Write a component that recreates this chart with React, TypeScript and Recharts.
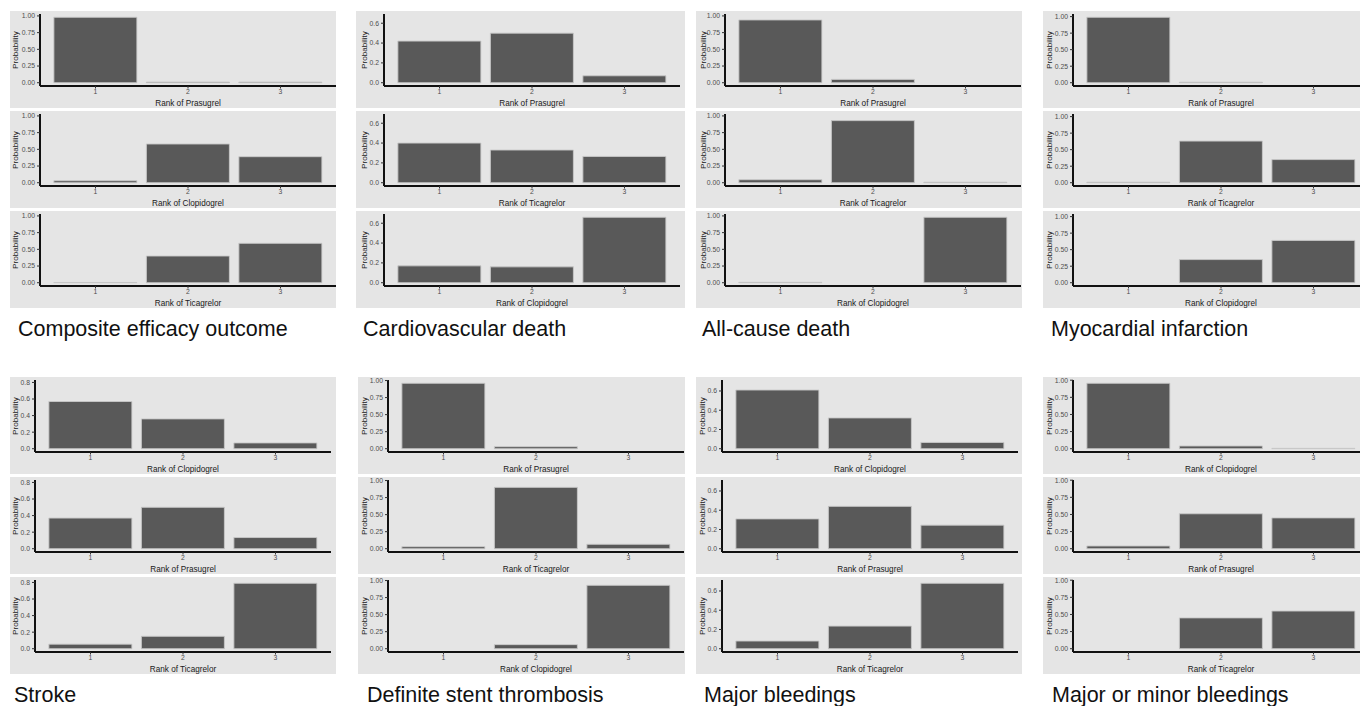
import { BarChart, Bar, XAxis, YAxis } from 'recharts';

// ─── Data ─────────────────────────────────────────────────────────────────────

const RANKS = ['1', '2', '3'];

const TITLES = [
  'Composite efficacy outcome',
  'Cardiovascular death',
  'All-cause death',
  'Myocardial infarction',
  'Stroke',
  'Definite stent thrombosis',
  'Major bleedings',
  'Major or minor bleedings',
];

const TICKS_UNIT = [0, 0.25, 0.5, 0.75, 1];
const TICKS_06 = [0, 0.2, 0.4, 0.6];
const TICKS_08 = [0, 0.2, 0.4, 0.6, 0.8];

const compositeDrugs = ['Prasugrel', 'Clopidogrel', 'Ticagrelor'];
const compositeProb = [
  [0.98, 0.01, 0.01],
  [0.03, 0.58, 0.39],
  [0.004, 0.4, 0.59],
];

const cvDeathDrugs = ['Prasugrel', 'Ticagrelor', 'Clopidogrel'];
const cvDeathProb = [
  [0.42, 0.5, 0.07],
  [0.4, 0.33, 0.265],
  [0.17, 0.16, 0.66],
];

const allDeathDrugs = ['Prasugrel', 'Ticagrelor', 'Clopidogrel'];
const allDeathProb = [
  [0.94, 0.05, 0],
  [0.045, 0.93, 0.008],
  [0.006, 0, 0.98],
];

const miDrugs = ['Prasugrel', 'Ticagrelor', 'Clopidogrel'];
const miProb = [
  [0.99, 0.008, 0],
  [0.008, 0.63, 0.35],
  [0, 0.35, 0.64],
];

const strokeDrugs = ['Clopidogrel', 'Prasugrel', 'Ticagrelor'];
const strokeProb = [
  [0.57, 0.36, 0.07],
  [0.37, 0.5, 0.135],
  [0.055, 0.15, 0.79],
];

const stentDrugs = ['Prasugrel', 'Ticagrelor', 'Clopidogrel'];
const stentProb = [
  [0.96, 0.03, 0],
  [0.03, 0.9, 0.065],
  [0, 0.06, 0.93],
];

const majorDrugs = ['Clopidogrel', 'Prasugrel', 'Ticagrelor'];
const majorProb = [
  [0.61, 0.32, 0.065],
  [0.31, 0.44, 0.245],
  [0.08, 0.235, 0.68],
];

const minorDrugs = ['Clopidogrel', 'Prasugrel', 'Ticagrelor'];
const minorProb = [
  [0.955, 0.04, 0.005],
  [0.04, 0.51, 0.45],
  [0, 0.45, 0.55],
];

// ─── Layout ───────────────────────────────────────────────────────────────────

const FONT = '"Liberation Sans", Arial, Helvetica, sans-serif';
const PANEL_BG = '#e5e5e5';
const BAR_FILL = '#595959';
const SUB_OFFSETS = [0, 99.5, 199.5];
const SUB_H = 97;
const PLOT_W = 296;

const PANELS = [
  { title: TITLES[0], drugs: compositeDrugs, prob: compositeProb, ticks: TICKS_UNIT, left: 10, right: 336, axisX: 40, top: 11, labelX: 5.5, titleX: 18 },
  { title: TITLES[1], drugs: cvDeathDrugs, prob: cvDeathProb, ticks: TICKS_06, left: 356, right: 685, axisX: 384, top: 11, labelX: 8, titleX: 363 },
  { title: TITLES[2], drugs: allDeathDrugs, prob: allDeathProb, ticks: TICKS_UNIT, left: 696, right: 1022, axisX: 725, top: 11, labelX: 7, titleX: 702 },
  { title: TITLES[3], drugs: miDrugs, prob: miProb, ticks: TICKS_UNIT, left: 1043, right: 1360, axisX: 1073, top: 11, labelX: 6.5, titleX: 1051 },
  { title: TITLES[4], drugs: strokeDrugs, prob: strokeProb, ticks: TICKS_08, left: 10, right: 336, axisX: 35, top: 377, labelX: 5.5, titleX: 14 },
  { title: TITLES[5], drugs: stentDrugs, prob: stentProb, ticks: TICKS_UNIT, left: 358, right: 685, axisX: 388, top: 377, labelX: 6, titleX: 367 },
  { title: TITLES[6], drugs: majorDrugs, prob: majorProb, ticks: TICKS_06, left: 696, right: 1022, axisX: 722, top: 377, labelX: 6, titleX: 704 },
  { title: TITLES[7], drugs: minorDrugs, prob: minorProb, ticks: TICKS_UNIT, left: 1043, right: 1360, axisX: 1073, top: 377, labelX: 6.5, titleX: 1052 },
];

// ─── One small rank plot ──────────────────────────────────────────────────────

interface SubPlotProps {
  drug: string;
  values: number[];
  ticks: number[];
  domain: [number, number];
  axisW: number;
  labelX: number;
}

function SubPlot({ drug, values, ticks, domain, axisW, labelX }: SubPlotProps) {
  const data = RANKS.map((rank, i) => ({ rank, p: values[i] }));
  const digits = ticks[1] === 0.25 ? 2 : 1;
  const pad = (PLOT_W / 3.2) * 0.1;

  return (
    <BarChart
      width={axisW + PLOT_W}
      height={SUB_H}
      data={data}
      margin={{ top: 3, right: 0, bottom: 0, left: 0 }}
      barCategoryGap="5%"
    >
      <XAxis
        dataKey="rank"
        type="category"
        height={22}
        padding={{ left: pad, right: pad }}
        axisLine={{ stroke: '#111', strokeWidth: 2 }}
        tickLine={{ stroke: '#333' }}
        tickSize={2.5}
        tickMargin={1}
        tick={{ fontSize: 6.8, fill: '#4d4d4d', fontFamily: FONT }}
        label={{
          value: `Rank of ${drug}`,
          position: 'insideBottom',
          offset: 2,
          style: { fontSize: 8.2, fill: '#1a1a1a', fontFamily: FONT },
        }}
      />
      <YAxis
        type="number"
        width={axisW}
        domain={domain}
        ticks={ticks}
        interval={0}
        tickFormatter={(v: number) => v.toFixed(digits)}
        axisLine={{ stroke: '#111', strokeWidth: 2 }}
        tickLine={{ stroke: '#333' }}
        tickSize={3}
        tickMargin={2}
        tick={{ fontSize: 6.8, fill: '#4d4d4d', fontFamily: FONT }}
        label={{
          value: 'Probability',
          angle: -90,
          position: 'insideLeft',
          offset: labelX,
          style: { fontSize: 8.1, fill: '#1a1a1a', fontFamily: FONT, textAnchor: 'middle' },
        }}
      />
      <Bar dataKey="p" fill={BAR_FILL} stroke="#c8c8c8" strokeWidth={0.9} isAnimationActive={false} />
    </BarChart>
  );
}

// ─── Main ─────────────────────────────────────────────────────────────────────

export default function App() {
  return (
    <div
      style={{
        position: 'absolute',
        left: 0,
        top: 0,
        width: 1360,
        height: 706,
        background: '#fff',
        fontFamily: FONT,
        overflow: 'hidden',
      }}
    >
      {PANELS.map((panel) => {
        const maxVal = Math.max(...panel.prob.flat());
        const domain: [number, number] = [-maxVal * 0.05, maxVal * 1.05];
        const axisW = panel.axisX - panel.left;
        return (
          <div key={panel.title}>
            {panel.drugs.map((drug, i) => (
              <div
                key={drug}
                style={{
                  position: 'absolute',
                  left: panel.left,
                  top: panel.top + SUB_OFFSETS[i],
                  width: panel.right - panel.left,
                  height: SUB_H,
                  background: PANEL_BG,
                  overflow: 'hidden',
                }}
              >
                <SubPlot
                  drug={drug}
                  values={panel.prob[i]}
                  ticks={panel.ticks}
                  domain={domain}
                  axisW={axisW}
                  labelX={panel.labelX}
                />
              </div>
            ))}
            <div
              style={{
                position: 'absolute',
                left: panel.titleX,
                top: panel.top + 305.5,
                fontSize: 21.5,
                lineHeight: '24px',
                color: '#111',
                whiteSpace: 'nowrap',
              }}
            >
              {panel.title}
            </div>
          </div>
        );
      })}
    </div>
  );
}
